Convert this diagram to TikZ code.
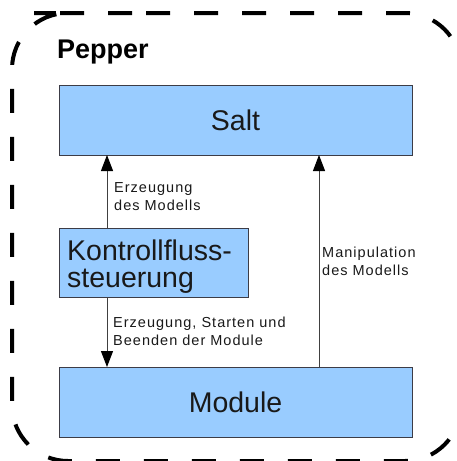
\documentclass[tikz,border=0pt]{standalone}
\usepackage{fontspec}
\setmainfont{Liberation Sans}
\newfontfamily\lblfont[LetterSpace=7]{Liberation Sans}
\usetikzlibrary{arrows.meta}
\definecolor{boxblue}{RGB}{153,204,255}
\definecolor{boxline}{RGB}{60,60,70}
\tikzset{
  blockbox/.style={draw=boxline, line width=1pt, fill=boxblue},
  bigtext/.style={font=\fontsize{28.5}{28.5}\selectfont, inner sep=0pt, text=black!90},
  lbltext/.style={font=\lblfont\fontsize{14.5}{17.5}\selectfont, inner sep=0pt, anchor=base west, text=black!90},
  flow/.style={draw=black!75, line width=1pt, -{Triangle[length=16pt,width=12pt,color=black,fill=black]}},
  frame/.style={draw=black, line width=4pt, dash pattern=on 24pt off 24pt, rounded corners=56pt}
}
\begin{document}
\begin{tikzpicture}[x=1pt,y=-1pt]
  \useasboundingbox (0,0) rectangle (456,461);
  \clip (0,0) rectangle (456,461);
  % dashed outer frame
  \draw[frame] (90,13) -- (461,13) -- (461,461) -- (12,461) -- (12,13) -- cycle;
  % title
  \node[font=\bfseries\fontsize{27}{27}\selectfont, inner sep=0pt, anchor=base west] (pepper) at (57,58) {Pepper};
  % boxes
  \node[blockbox, minimum width=353pt, minimum height=70pt, inner sep=0pt] (salt) at (235.5,120) {};
  \node[bigtext] (salttext) at (salt.center) {Salt};
  \node[blockbox, minimum width=189pt, minimum height=69pt, inner sep=0pt] (kontroll) at (153.5,262.5) {};
  \node[bigtext, anchor=base west] (k1) at (67,260) {Kontrollfluss-};
  \node[bigtext, anchor=base west] (k2) at (67,287) {steuerung};
  \node[blockbox, minimum width=353pt, minimum height=70pt, inner sep=0pt] (module) at (235.5,402) {};
  \node[bigtext] (moduletext) at (module.center) {Module};
  % connector anchors
  \coordinate (a1s) at (107,228);
  \coordinate (a1e) at (107,155);
  \coordinate (a2s) at (107,297);
  \coordinate (a2e) at (107,367);
  \coordinate (a3s) at (319,367);
  \coordinate (a3e) at (319,155);
  \draw[flow] (a1s) -- (a1e);
  \draw[flow] (a2s) -- (a2e);
  \draw[flow] (a3s) -- (a3e);
  % labels
  \node[lbltext] (l1a) at (114,192.5) {Erzeugung};
  \node[lbltext] (l1b) at (114,210) {des Modells};
  \node[lbltext] (l2a) at (113,327) {Erzeugung, Starten und};
  \node[lbltext] (l2b) at (113,345) {Beenden der Module};
  \node[lbltext] (l3a) at (322,257) {Manipulation};
  \node[lbltext] (l3b) at (322,275) {des Modells};
\end{tikzpicture}
\end{document}
